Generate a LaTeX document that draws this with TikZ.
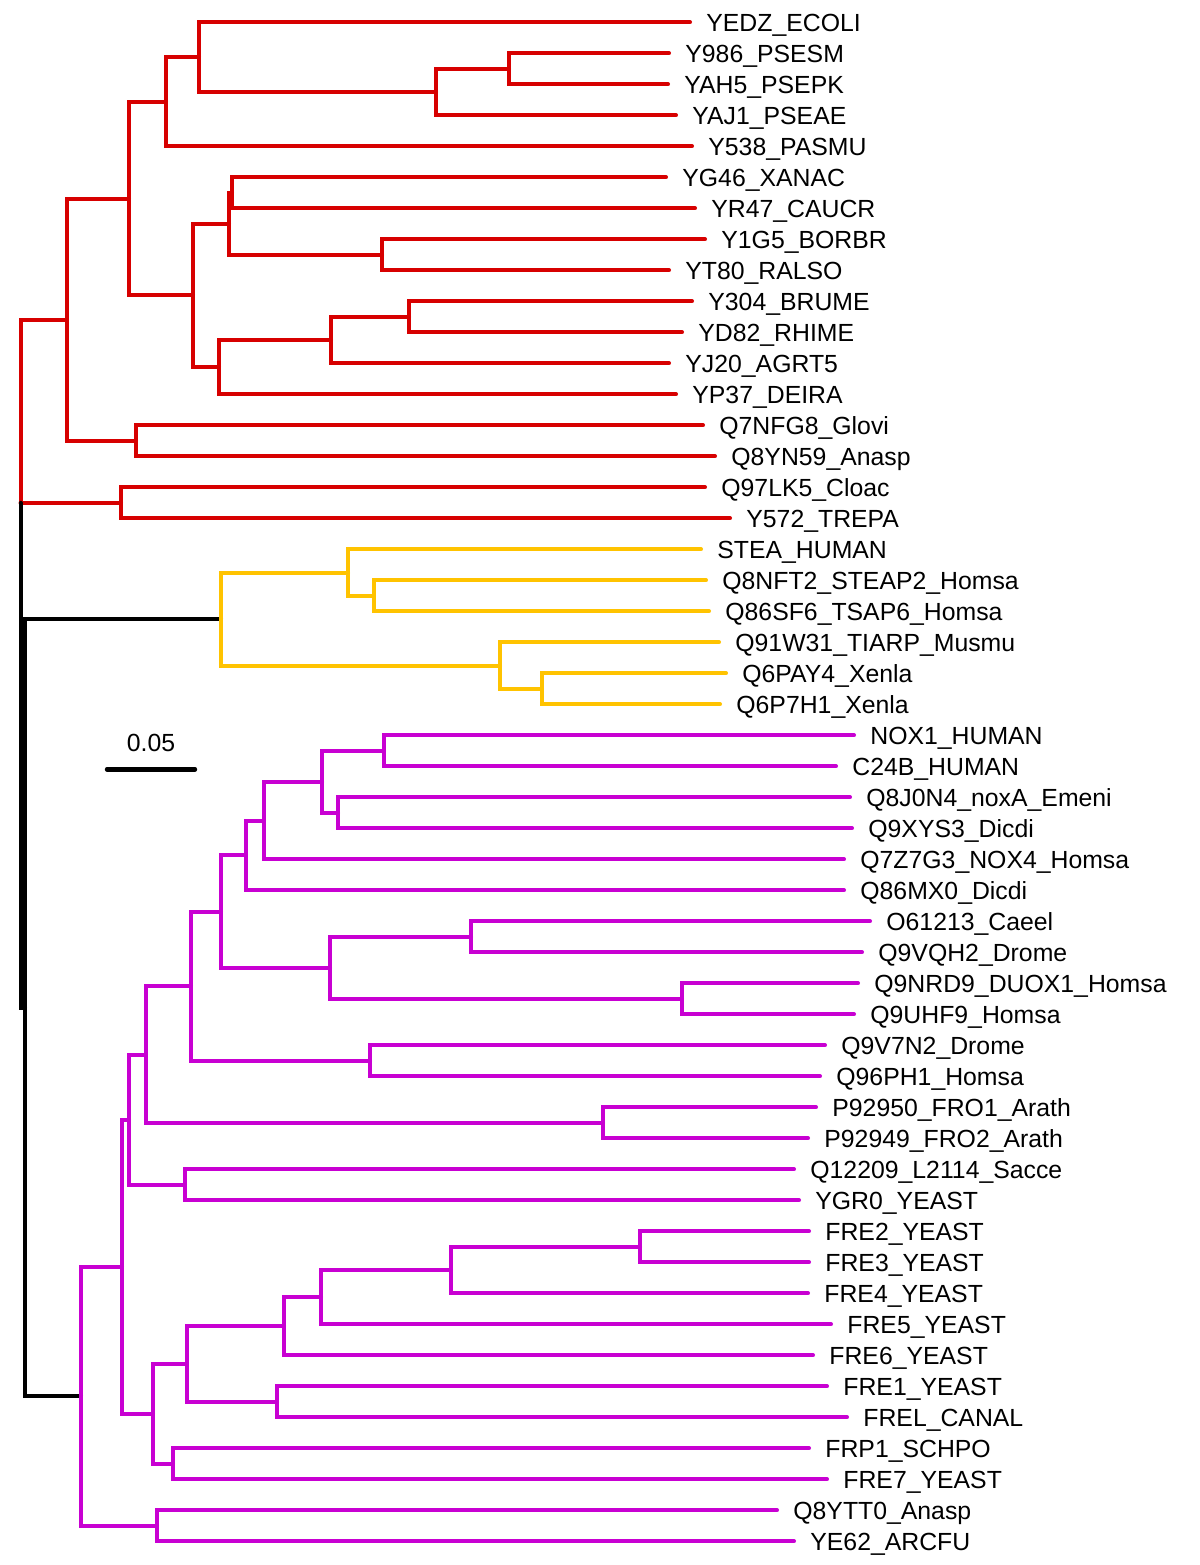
\documentclass[tikz,border=0pt]{standalone}
\usepackage{fontspec}
\setmainfont{Liberation Sans}
\definecolor{tred}{RGB}{215,0,0}
\definecolor{tyel}{RGB}{255,195,0}
\definecolor{tpur}{RGB}{200,0,210}
\newcommand\myleaf[4]{\coordinate (t#1) at (#2,#3); \node[lab] (L#1) at (t#1) {#4};}
\begin{document}
\begin{tikzpicture}[x=0.5pt,y=-15.5pt,
  br/.style={line width=2pt,line cap=round,line join=miter},
  redb/.style={br,draw=tred},
  yelb/.style={br,draw=tyel},
  purb/.style={br,draw=tpur},
  blkb/.style={br,draw=black},
  lab/.style={anchor=base west,inner sep=0pt,xshift=8pt,yshift=-4.45pt,font=\fontsize{12.4}{14}\selectfont}]
\useasboundingbox[fill=white] (0,-0.719355) rectangle (1200,49.7645);
% leaves
\myleaf{0}{690}{0}{YEDZ\_ECOLI}
\myleaf{1}{669}{1}{Y986\_PSESM}
\myleaf{2}{668}{2}{YAH5\_PSEPK}
\myleaf{3}{676}{3}{YAJ1\_PSEAE}
\myleaf{4}{692}{4}{Y538\_PASMU}
\myleaf{5}{666}{5}{YG46\_XANAC}
\myleaf{6}{695}{6}{YR47\_CAUCR}
\myleaf{7}{705}{7}{Y1G5\_BORBR}
\myleaf{8}{669}{8}{YT80\_RALSO}
\myleaf{9}{692}{9}{Y304\_BRUME}
\myleaf{10}{682}{10}{YD82\_RHIME}
\myleaf{11}{669}{11}{YJ20\_AGRT5}
\myleaf{12}{676}{12}{YP37\_DEIRA}
\myleaf{13}{703}{13}{Q7NFG8\_Glovi}
\myleaf{14}{715}{14}{Q8YN59\_Anasp}
\myleaf{15}{705}{15}{Q97LK5\_Cloac}
\myleaf{16}{730}{16}{Y572\_TREPA}
\myleaf{17}{701}{17}{STEA\_HUMAN}
\myleaf{18}{706}{18}{Q8NFT2\_STEAP2\_Homsa}
\myleaf{19}{709}{19}{Q86SF6\_TSAP6\_Homsa}
\myleaf{20}{719}{20}{Q91W31\_TIARP\_Musmu}
\myleaf{21}{726}{21}{Q6PAY4\_Xenla}
\myleaf{22}{720}{22}{Q6P7H1\_Xenla}
\myleaf{23}{854}{23}{NOX1\_HUMAN}
\myleaf{24}{836}{24}{C24B\_HUMAN}
\myleaf{25}{850}{25}{Q8J0N4\_noxA\_Emeni}
\myleaf{26}{852}{26}{Q9XYS3\_Dicdi}
\myleaf{27}{844}{27}{Q7Z7G3\_NOX4\_Homsa}
\myleaf{28}{844}{28}{Q86MX0\_Dicdi}
\myleaf{29}{870}{29}{O61213\_Caeel}
\myleaf{30}{862}{30}{Q9VQH2\_Drome}
\myleaf{31}{858}{31}{Q9NRD9\_DUOX1\_Homsa}
\myleaf{32}{854}{32}{Q9UHF9\_Homsa}
\myleaf{33}{825}{33}{Q9V7N2\_Drome}
\myleaf{34}{820}{34}{Q96PH1\_Homsa}
\myleaf{35}{816}{35}{P92950\_FRO1\_Arath}
\myleaf{36}{808}{36}{P92949\_FRO2\_Arath}
\myleaf{37}{794}{37}{Q12209\_L2114\_Sacce}
\myleaf{38}{799}{38}{YGR0\_YEAST}
\myleaf{39}{809}{39}{FRE2\_YEAST}
\myleaf{40}{809}{40}{FRE3\_YEAST}
\myleaf{41}{808}{41}{FRE4\_YEAST}
\myleaf{42}{831}{42}{FRE5\_YEAST}
\myleaf{43}{813}{43}{FRE6\_YEAST}
\myleaf{44}{827}{44}{FRE1\_YEAST}
\myleaf{45}{847}{45}{FREL\_CANAL}
\myleaf{46}{809}{46}{FRP1\_SCHPO}
\myleaf{47}{827}{47}{FRE7\_YEAST}
\myleaf{48}{777}{48}{Q8YTT0\_Anasp}
\myleaf{49}{794}{49}{YE62\_ARCFU}
% red internal nodes
\coordinate (r1) at (509,1.5);
\coordinate (r2) at (436,2.25);
\coordinate (r3) at (199,1.125);
\coordinate (r4) at (166,2.5625);
\coordinate (r5) at (232,5.5);
\coordinate (r6) at (382,7.5);
\coordinate (r7) at (229,6.5);
\coordinate (r8) at (409,9.5);
\coordinate (r9) at (331,10.25);
\coordinate (r10) at (219,11.125);
\coordinate (r11) at (193,8.8125);
\coordinate (r12) at (129,5.6875);
\coordinate (r13) at (136,13.5);
\coordinate (r14) at (67,9.59375);
\coordinate (r15) at (121,15.5);
\coordinate (rj) at (20.5,15.5);
% root
\coordinate (root) at (20.5,31.7861);
\coordinate (n25) at (25,31.7861);
% yellow
\coordinate (y1) at (374,18.5);
\coordinate (y2) at (348,17.75);
\coordinate (y3) at (542,21.5);
\coordinate (y4) at (500,20.75);
\coordinate (y5) at (221,19.25);
% purple
\coordinate (p1) at (384,23.5);
\coordinate (p2) at (338,25.5);
\coordinate (p3) at (322,24.5);
\coordinate (p4) at (264,25.75);
\coordinate (p5) at (246,26.875);
\coordinate (p6) at (471,29.5);
\coordinate (p7) at (682,31.5);
\coordinate (p8) at (330,30.5);
\coordinate (p9) at (221,28.6875);
\coordinate (p10) at (370,33.5);
\coordinate (p11) at (191,31.09375);
\coordinate (p12) at (603,35.5);
\coordinate (p13) at (146,33.296875);
\coordinate (p14) at (185,37.5);
\coordinate (p15) at (129,35.3984375);
\coordinate (p16) at (640,39.5);
\coordinate (p17) at (451,40.25);
\coordinate (p18) at (321,41.125);
\coordinate (p19) at (284,42.0625);
\coordinate (p20) at (277,44.5);
\coordinate (p21) at (187,43.28125);
\coordinate (p22) at (173,46.5);
\coordinate (p23) at (153,44.890625);
\coordinate (p24) at (122,40.14453125);
\coordinate (p25) at (157,48.5);
\coordinate (p26) at (81,44.322265625);
% red branches
\draw[redb] (r1) |- (t1) (r1) |- (t2)
  (r2) |- (r1) (r2) |- (t3)
  (r3) |- (t0) (r3) |- (r2)
  (r4) |- (r3) (r4) |- (t4)
  (r5) |- (t5) (r5) |- (t6)
  (r6) |- (t7) (r6) |- (t8)
  (r7) |- (r5) (r7) |- (r6)
  (r8) |- (t9) (r8) |- (t10)
  (r9) |- (r8) (r9) |- (t11)
  (r10) |- (r9) (r10) |- (t12)
  (r11) |- (r7) (r11) |- (r10)
  (r12) |- (r4) (r12) |- (r11)
  (r13) |- (t13) (r13) |- (t14)
  (r14) |- (r12) (r14) |- (r13)
  (r15) |- (t15) (r15) |- (t16)
  (rj) |- (r14) (rj) -- (r15);
% black root
\draw[blkb] (rj) -- (root) -- (n25);
\draw[blkb] (n25) |- (y5) (n25) |- (p26);
% yellow branches
\draw[yelb] (y1) |- (t18) (y1) |- (t19)
  (y2) |- (t17) (y2) |- (y1)
  (y3) |- (t21) (y3) |- (t22)
  (y4) |- (t20) (y4) |- (y3)
  (y5) |- (y2) (y5) |- (y4);
% purple branches
\draw[purb] (p1) |- (t23) (p1) |- (t24)
  (p2) |- (t25) (p2) |- (t26)
  (p3) |- (p1) (p3) |- (p2)
  (p4) |- (p3) (p4) |- (t27)
  (p5) |- (p4) (p5) |- (t28)
  (p6) |- (t29) (p6) |- (t30)
  (p7) |- (t31) (p7) |- (t32)
  (p8) |- (p6) (p8) |- (p7)
  (p9) |- (p5) (p9) |- (p8)
  (p10) |- (t33) (p10) |- (t34)
  (p11) |- (p9) (p11) |- (p10)
  (p12) |- (t35) (p12) |- (t36)
  (p13) |- (p11) (p13) |- (p12)
  (p14) |- (t37) (p14) |- (t38)
  (p15) |- (p13) (p15) |- (p14)
  (p16) |- (t39) (p16) |- (t40)
  (p17) |- (p16) (p17) |- (t41)
  (p18) |- (p17) (p18) |- (t42)
  (p19) |- (p18) (p19) |- (t43)
  (p20) |- (t44) (p20) |- (t45)
  (p21) |- (p19) (p21) |- (p20)
  (p22) |- (t46) (p22) |- (t47)
  (p23) |- (p21) (p23) |- (p22)
  (p24) |- (p15) (p24) |- (p23)
  (p25) |- (t48) (p25) |- (t49)
  (p26) |- (p24) (p26) |- (p25);
% scale bar
\coordinate (sb1) at (107,24.097);
\coordinate (sb2) at (195,24.097);
\draw[blkb,line width=2.2pt] (sb1) -- (sb2);
\node[anchor=base,inner sep=0pt,font=\fontsize{12.4}{14}\selectfont] (sbl) at (151,23.529) {0.05};
\end{tikzpicture}
\end{document}
